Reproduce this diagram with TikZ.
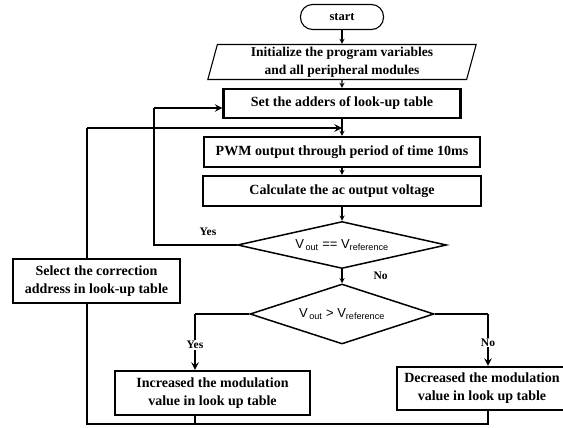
\documentclass[tikz,border=0pt]{standalone}
\usepackage{fontspec}
\setmainfont{Liberation Serif}
\newfontfamily\vfont{Liberation Sans}
\usetikzlibrary{shapes.geometric}

\begin{document}
\begin{tikzpicture}[x=1pt, y=-1pt, >=stealth,
    every node/.style={font=\bfseries\fontsize{14}{18}\selectfont, align=center},
    term/.style={draw, line width=1.1pt, rounded corners=12pt, minimum width=83pt, minimum height=25pt, inner sep=0pt, font=\bfseries\fontsize{12.5}{14}\selectfont},
    io/.style={draw, line width=1.1pt, trapezium, trapezium left angle=77, trapezium right angle=103, trapezium stretches=true, minimum width=269pt, minimum height=35pt, inner sep=0pt, font=\bfseries\fontsize{13.5}{18}\selectfont},
    proc/.style={draw, line width=2.1pt, minimum height=30pt, inner sep=0pt},
    test/.style={draw, line width=1.5pt, diamond, aspect=4, inner sep=0pt, font=\vfont\fontsize{13}{15}\selectfont},
    flow/.style={->, line width=1.3pt},
    loop/.style={line width=2.3pt},
    lbl/.style={font=\bfseries\fontsize{11.5}{13}\selectfont, fill=white, inner sep=1pt}]

    \useasboundingbox (0,0) rectangle (563,428);

    % main column
    \node[term] (start) at (342,17) {start};
    \node[io] (init) at (342,62) {Initialize the program variables\\and all peripheral\ modules};
    \node[proc, minimum width=237pt, minimum height=29pt] (adders) at (342,103.5) {Set the adders of look-up table};
    \node[proc, minimum width=276pt] (pwm) at (342,152) {PWM output through period of time 10ms};
    \node[proc, minimum width=278pt] (calc) at (342,191) {Calculate the ac output voltage};

    \node[test, minimum width=209pt, minimum height=47pt] (eq) at (342,245) {V\textsubscript{\,out} == V\textsubscript{reference}};
    \node[test, minimum width=184pt, minimum height=60pt] (gt) at (342,314) {V\textsubscript{\,out} > V\textsubscript{reference}};

    % branches
    \node[proc, minimum width=195pt, minimum height=44pt] (inc) at (212.5,393) {Increased the modulation\\value in look up table};
    \node[proc, minimum width=170pt, minimum height=43pt] (dec) at (482,388.5) {Decreased the modulation\\value in look up table};
    \node[proc, minimum width=167pt, minimum height=44pt] (sel) at (96.5,281) {Select the correction\\address in look-up table};

    \coordinate (yb) at (195,314);
    \coordinate (nb) at (488,314);
    \coordinate (bl) at (87,424);
    \coordinate (tl) at (87,128);
    \coordinate (yl) at (154,108);

    \draw[flow] (start) -- (init);
    \draw[flow] (init) -- (adders);
    \draw[flow] (adders) -- (pwm);
    \draw[flow] (pwm) -- (calc);
    \draw[flow] (calc) -- (eq);
    \draw[flow] (eq) -- (gt) node[midway, right=30pt, lbl] {No};

    % yes loop back to the table address
    \draw[loop] (eq.west) -| (yl);
    \draw[loop, ->] (yl) -- (yl -| adders.west);
    \node[lbl] (yes1) at (208,232) {Yes};

    % compare branches
    \draw[loop] (gt.west) -- (yb);
    \draw[loop, ->] (yb) -- (yb |- inc.north) node[pos=0.55, lbl] {Yes};
    \draw[loop] (gt.east) -- (nb);
    \draw[loop, ->] (nb) -- (nb |- dec.north) node[pos=0.55, lbl] {No};

    % return path
    \draw[loop] (inc.south -| yb) -- (yb |- bl);
    \draw[loop] (dec.south -| nb) -- (nb |- bl) -- (bl) -- (bl |- sel.south);
    \draw[loop] (bl |- sel.north) -- (tl);
    \draw[loop, ->] (tl) -- (tl -| adders.south);
\end{tikzpicture}
\end{document}
